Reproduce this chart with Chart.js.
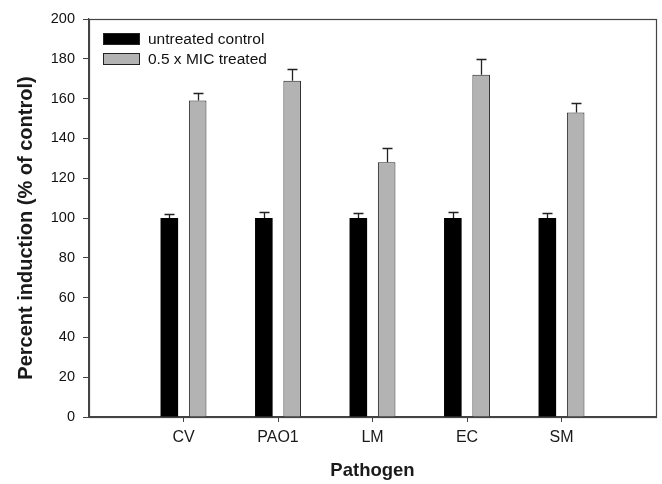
<!DOCTYPE html>
<html>
<head>
<meta charset="utf-8">
<script src="https://cdn.jsdelivr.net/npm/chart.js@4"></script>
<style>
  html, body { margin: 0; padding: 0; background: #fff; }
  #wrap { width: 662px; height: 484px; }
</style>
</head>
<body>
<div id="wrap"><canvas id="chart" width="662" height="484"></canvas></div>
<script>
// Data
const pathogens = ['CV', 'PAO1', 'LM', 'EC', 'SM'];
const controlValues = [100, 100, 100, 100, 100];
const controlErrors = [2, 3, 2.5, 3, 2.5];
const treatedValues = [159, 169, 128, 172, 153];
const treatedErrors = [4, 6, 7, 8, 5];
const yTicks = [0, 20, 40, 60, 80, 100, 120, 140, 160, 180, 200];

const FONT = 'Liberation Sans, Arial, sans-serif';
const AXIS = '#444';
const Y_TITLE = 'Percent induction (% of control)';

// empty slots at both ends so categories sit one step in from the frame
const pad = arr => [null, ...arr, null];
const labels = ['', ...pathogens, ''];

// Error bars (upper half only)
const errorBars = {
    id: 'errorBars',
    afterDatasetsDraw(chart) {
        const ctx = chart.ctx;
        const y = chart.scales.y;
        ctx.save();
        ctx.strokeStyle = '#222';
        ctx.lineWidth = 1.3;
        chart.data.datasets.forEach((ds, di) => {
            const meta = chart.getDatasetMeta(di);
            ds.errors.forEach((e, i) => {
                const v = ds.data[i];
                if (v == null || e == null) return;
                const bar = meta.data[i];
                const x = Math.round(bar.x) + 0.5;
                const y0 = y.getPixelForValue(v);
                const y1 = Math.round(y.getPixelForValue(v + e)) + 0.5;
                ctx.beginPath();
                ctx.moveTo(x, y0);
                ctx.lineTo(x, y1);
                ctx.moveTo(x - 5, y1);
                ctx.lineTo(x + 5, y1);
                ctx.stroke();
            });
        });
        ctx.restore();
    }
};

// Frame round the plot, legend box in the top left corner, y title
const frameAndLegend = {
    id: 'frameAndLegend',
    afterDraw(chart) {
        const ctx = chart.ctx;
        const a = chart.chartArea;
        ctx.save();
        ctx.strokeStyle = AXIS;
        ctx.lineWidth = 1.2;
        ctx.strokeRect(Math.round(a.left) + 0.5, Math.round(a.top) + 0.5,
            Math.round(a.right - a.left), Math.round(a.bottom - a.top));

        ctx.font = '15.5px ' + FONT;
        ctx.textBaseline = 'middle';
        chart.data.datasets.forEach((ds, i) => {
            const bx = a.left + 14;
            const by = a.top + 14 + i * 20;
            ctx.fillStyle = ds.backgroundColor;
            ctx.fillRect(bx, by, 37, 12);
            ctx.strokeStyle = '#222';
            ctx.lineWidth = 1;
            ctx.strokeRect(bx + 0.5, by + 0.5, 36, 11);
            ctx.fillStyle = '#111';
            ctx.fillText(ds.label, bx + 45, by + 6.5);
        });

        // y axis title, sits a little below the middle of the plot
        ctx.translate(26, (a.top + a.bottom) / 2 + 10);
        ctx.rotate(-Math.PI / 2);
        ctx.font = 'bold 20px ' + FONT;
        ctx.textAlign = 'center';
        ctx.fillStyle = '#1a1a1a';
        ctx.fillText(Y_TITLE, 0, 0);
        ctx.restore();
    }
};

new Chart(document.getElementById('chart'), {
    type: 'bar',
    data: {
        labels: labels,
        datasets: [{
            label: 'untreated control',
            data: pad(controlValues),
            errors: pad(controlErrors),
            backgroundColor: '#000000',
            borderColor: '#000000',
            borderWidth: 0
        }, {
            label: '0.5 x MIC treated',
            data: pad(treatedValues),
            errors: pad(treatedErrors),
            backgroundColor: '#b3b3b3',
            borderColor: '#222222',
            borderWidth: 1
        }]
    },
    options: {
        responsive: false,
        animation: false,
        events: [],
        categoryPercentage: 0.6,
        barPercentage: 0.62,
        layout: { padding: { top: 19, right: -1, left: 0, bottom: 0 } },
        plugins: {
            legend: { display: false },
            tooltip: { enabled: false }
        },
        scales: {
            x: {
                offset: false,
                grid: {
                    offset: false,
                    drawOnChartArea: false,
                    tickLength: 5,
                    tickColor: c => (c.index === 0 || c.index === labels.length - 1) ? 'transparent' : AXIS
                },
                border: { color: AXIS, width: 1.2 },
                ticks: {
                    color: '#1a1a1a',
                    font: { family: FONT, size: 16 },
                    padding: 6,
                    maxRotation: 0,
                    autoSkip: false
                },
                title: {
                    display: true,
                    text: 'Pathogen',
                    color: '#1a1a1a',
                    font: { family: FONT, size: 18.5, weight: 'bold' },
                    padding: { top: 4, bottom: 2 }
                },
                afterFit: s => { s.height = 67; }
            },
            y: {
                min: 0,
                max: 200,
                afterBuildTicks: s => { s.ticks = yTicks.map(v => ({ value: v })); },
                grid: {
                    drawOnChartArea: false,
                    tickLength: 6,
                    tickColor: AXIS
                },
                border: { color: AXIS, width: 1.2 },
                ticks: {
                    color: '#111',
                    font: { family: FONT, size: 14.5 },
                    padding: 8
                },
                afterFit: s => { s.width = 89; }
            }
        }
    },
    plugins: [errorBars, frameAndLegend]
});
</script>
</body>
</html>
